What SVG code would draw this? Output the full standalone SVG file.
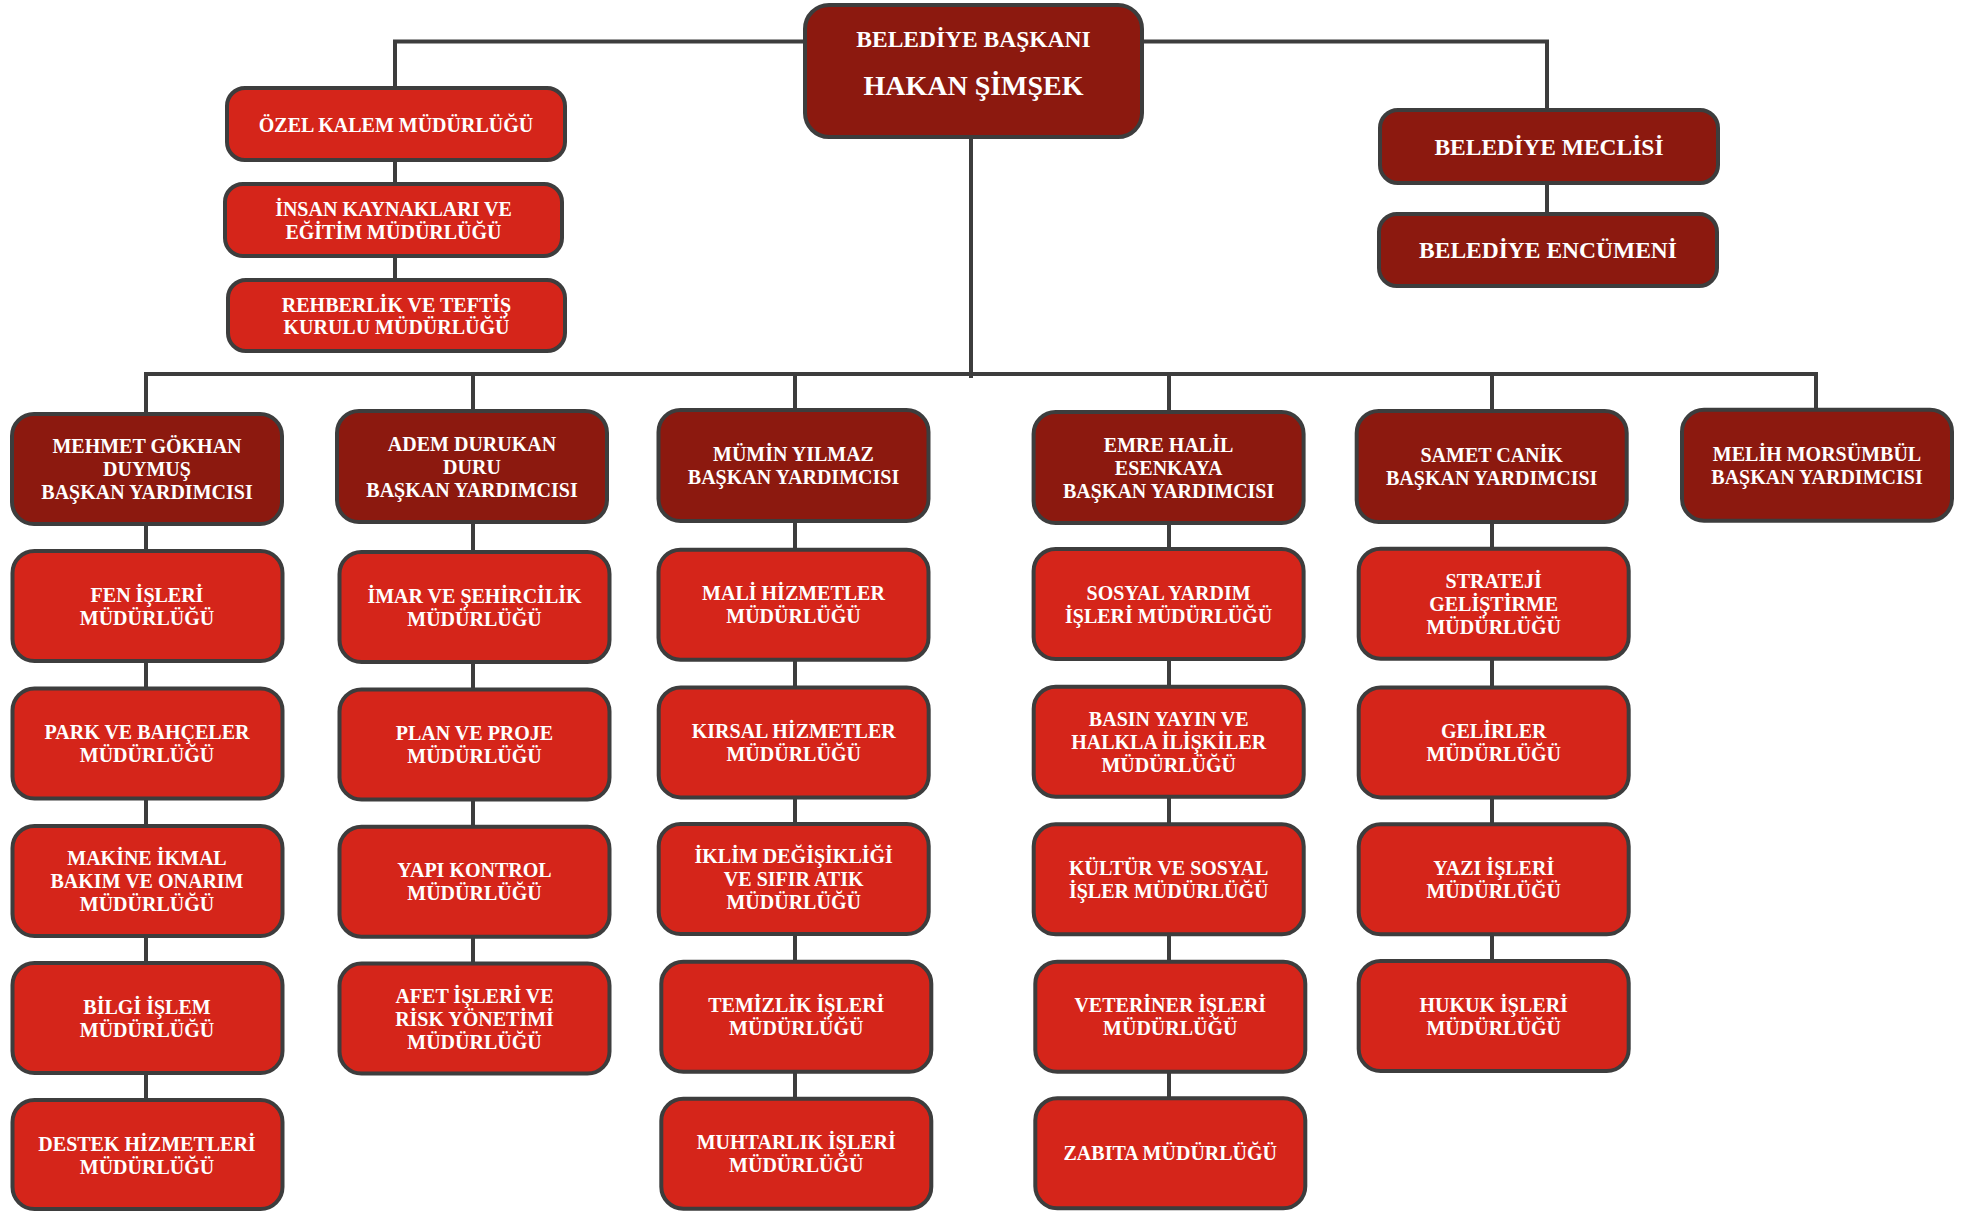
<svg xmlns="http://www.w3.org/2000/svg" width="1975" height="1213" viewBox="0 0 1975 1213">
<style>
.dk{fill:#8C190F;stroke:#3d3d3d;stroke-width:4}
.rd{fill:#D5251A;stroke:#3d3d3d;stroke-width:4}
text{font-family:"Liberation Serif","Times New Roman",serif;font-weight:bold;fill:#fff;text-anchor:middle;font-size:20px}
.big{font-size:23.5px}
.huge{font-size:28px}
#connectors path{fill:none;stroke:#3d3d3d;stroke-width:4;stroke-linejoin:miter}
</style>
<rect width="1975" height="1213" fill="#fff"/>
<g id="connectors">
<path d="M395,280 V41.5 H1547 V214"/>
<path d="M971,137 V378"/>
<path d="M146,1100 V374 H1816 V410"/>
<path d="M473,374 V964"/>
<path d="M795,374 V1099"/>
<path d="M1169,374 V1099"/>
<path d="M1492,374 V962"/>
</g>
<g id="baskan"><rect class="dk" x="805" y="5" width="337" height="132" rx="24"/><text class="big" x="973.5" y="47">BELEDİYE BAŞKANI</text><text class="huge" x="973.5" y="95">HAKAN ŞİMŞEK</text></g>
<g id="ozel-kalem"><rect class="rd" x="227" y="88" width="338" height="72" rx="18"/><text x="396" y="131.5">ÖZEL KALEM MÜDÜRLÜĞÜ</text></g>
<g id="insan-kaynaklari"><rect class="rd" x="225" y="184" width="337" height="72" rx="18"/><text x="393.5" y="216">İNSAN KAYNAKLARI VE</text><text x="393.5" y="239">EĞİTİM MÜDÜRLÜĞÜ</text></g>
<g id="rehberlik"><rect class="rd" x="228" y="280" width="337" height="71" rx="18"/><text x="396.5" y="311.5">REHBERLİK VE TEFTİŞ</text><text x="396.5" y="334">KURULU MÜDÜRLÜĞÜ</text></g>
<g id="meclis"><rect class="dk" x="1380" y="110" width="338" height="73" rx="18"/><text class="big" x="1549" y="155">BELEDİYE MECLİSİ</text></g>
<g id="encumen"><rect class="dk" x="1379" y="214" width="338" height="72" rx="18"/><text class="big" x="1548" y="258">BELEDİYE ENCÜMENİ</text></g>

<g id="vp-mehmet"><rect class="dk" x="12" y="414" width="270" height="110" rx="22"/><text x="147" y="453">MEHMET GÖKHAN</text><text x="147" y="476">DUYMUŞ</text><text x="147" y="499">BAŞKAN YARDIMCISI</text></g>
<g id="vp-adem"><rect class="dk" x="337" y="411" width="270" height="111" rx="22"/><text x="472" y="450.5">ADEM DURUKAN</text><text x="472" y="473.5">DURU</text><text x="472" y="496.5">BAŞKAN YARDIMCISI</text></g>
<g id="vp-mumin"><rect class="dk" x="658.5" y="410" width="270" height="111" rx="22"/><text x="793.5" y="461">MÜMİN YILMAZ</text><text x="793.5" y="484">BAŞKAN YARDIMCISI</text></g>
<g id="vp-emre"><rect class="dk" x="1033.6" y="412" width="270" height="111" rx="22"/><text x="1168.6" y="451.5">EMRE HALİL</text><text x="1168.6" y="474.5">ESENKAYA</text><text x="1168.6" y="497.5">BAŞKAN YARDIMCISI</text></g>
<g id="vp-samet"><rect class="dk" x="1356.7" y="411" width="270" height="111" rx="22"/><text x="1491.7" y="462">SAMET CANİK</text><text x="1491.7" y="485">BAŞKAN YARDIMCISI</text></g>
<g id="vp-melih"><rect class="dk" x="1682" y="409.7" width="270" height="111" rx="22"/><text x="1817" y="460.7">MELİH MORSÜMBÜL</text><text x="1817" y="483.7">BAŞKAN YARDIMCISI</text></g>

<g id="fen"><rect class="rd" x="12.5" y="551" width="270" height="110" rx="22"/><text x="147" y="601.5">FEN İŞLERİ</text><text x="147" y="624.5">MÜDÜRLÜĞÜ</text></g>
<g id="park"><rect class="rd" x="12.5" y="688.5" width="270" height="110" rx="22"/><text x="147" y="739">PARK VE BAHÇELER</text><text x="147" y="762">MÜDÜRLÜĞÜ</text></g>
<g id="makine"><rect class="rd" x="12.5" y="826" width="270" height="110" rx="22"/><text x="147" y="865">MAKİNE İKMAL</text><text x="147" y="888">BAKIM VE ONARIM</text><text x="147" y="911">MÜDÜRLÜĞÜ</text></g>
<g id="bilgi"><rect class="rd" x="12.5" y="963" width="270" height="110" rx="22"/><text x="147" y="1013.5">BİLGİ İŞLEM</text><text x="147" y="1036.5">MÜDÜRLÜĞÜ</text></g>
<g id="destek"><rect class="rd" x="12.5" y="1100" width="270" height="109" rx="22"/><text x="147" y="1150.5">DESTEK HİZMETLERİ</text><text x="147" y="1173.5">MÜDÜRLÜĞÜ</text></g>

<g id="imar"><rect class="rd" x="339.5" y="552" width="270" height="110" rx="22"/><text x="474.5" y="602.5">İMAR VE ŞEHİRCİLİK</text><text x="474.5" y="625.5">MÜDÜRLÜĞÜ</text></g>
<g id="plan"><rect class="rd" x="339.5" y="689.5" width="270" height="110" rx="22"/><text x="474.5" y="740">PLAN VE PROJE</text><text x="474.5" y="763">MÜDÜRLÜĞÜ</text></g>
<g id="yapi"><rect class="rd" x="339.5" y="826.7" width="270" height="110" rx="22"/><text x="474.5" y="877.2">YAPI KONTROL</text><text x="474.5" y="900.2">MÜDÜRLÜĞÜ</text></g>
<g id="afet"><rect class="rd" x="339.5" y="963.6" width="270" height="110" rx="22"/><text x="474.5" y="1002.6">AFET İŞLERİ VE</text><text x="474.5" y="1025.6">RİSK YÖNETİMİ</text><text x="474.5" y="1048.6">MÜDÜRLÜĞÜ</text></g>

<g id="mali"><rect class="rd" x="658.5" y="549.7" width="270" height="110" rx="22"/><text x="793.5" y="600.2">MALİ HİZMETLER</text><text x="793.5" y="623.2">MÜDÜRLÜĞÜ</text></g>
<g id="kirsal"><rect class="rd" x="658.7" y="687.4" width="270" height="110" rx="22"/><text x="793.7" y="737.9">KIRSAL HİZMETLER</text><text x="793.7" y="760.9">MÜDÜRLÜĞÜ</text></g>
<g id="iklim"><rect class="rd" x="658.7" y="824" width="270" height="110" rx="22"/><text x="793.7" y="863">İKLİM DEĞİŞİKLİĞİ</text><text x="793.7" y="886">VE SIFIR ATIK</text><text x="793.7" y="909">MÜDÜRLÜĞÜ</text></g>
<g id="temizlik"><rect class="rd" x="661.3" y="961.8" width="270" height="110" rx="22"/><text x="796.3" y="1012.3">TEMİZLİK İŞLERİ</text><text x="796.3" y="1035.3">MÜDÜRLÜĞÜ</text></g>
<g id="muhtarlik"><rect class="rd" x="661.3" y="1098.7" width="270" height="110" rx="22"/><text x="796.3" y="1149.2">MUHTARLIK İŞLERİ</text><text x="796.3" y="1172.2">MÜDÜRLÜĞÜ</text></g>

<g id="sosyal-yardim"><rect class="rd" x="1033.6" y="549" width="270" height="110" rx="22"/><text x="1168.6" y="599.5">SOSYAL YARDIM</text><text x="1168.6" y="622.5">İŞLERİ MÜDÜRLÜĞÜ</text></g>
<g id="basin"><rect class="rd" x="1033.7" y="686.7" width="270" height="110" rx="22"/><text x="1168.7" y="725.7">BASIN YAYIN VE</text><text x="1168.7" y="748.7">HALKLA İLİŞKİLER</text><text x="1168.7" y="771.7">MÜDÜRLÜĞÜ</text></g>
<g id="kultur"><rect class="rd" x="1033.7" y="824.3" width="270" height="110" rx="22"/><text x="1168.7" y="874.8">KÜLTÜR VE SOSYAL</text><text x="1168.7" y="897.8">İŞLER MÜDÜRLÜĞÜ</text></g>
<g id="veteriner"><rect class="rd" x="1035.3" y="961.8" width="270" height="110" rx="22"/><text x="1170.3" y="1012.3">VETERİNER İŞLERİ</text><text x="1170.3" y="1035.3">MÜDÜRLÜĞÜ</text></g>
<g id="zabita"><rect class="rd" x="1035.3" y="1098.3" width="270" height="110" rx="22"/><text x="1170.3" y="1160.3">ZABITA MÜDÜRLÜĞÜ</text></g>

<g id="strateji"><rect class="rd" x="1358.7" y="548.7" width="270" height="110" rx="22"/><text x="1493.7" y="587.7">STRATEJİ</text><text x="1493.7" y="610.7">GELİŞTİRME</text><text x="1493.7" y="633.7">MÜDÜRLÜĞÜ</text></g>
<g id="gelirler"><rect class="rd" x="1358.7" y="687.4" width="270" height="110" rx="22"/><text x="1493.7" y="737.9">GELİRLER</text><text x="1493.7" y="760.9">MÜDÜRLÜĞÜ</text></g>
<g id="yazi"><rect class="rd" x="1358.7" y="824.3" width="270" height="110" rx="22"/><text x="1493.7" y="874.8">YAZI İŞLERİ</text><text x="1493.7" y="897.8">MÜDÜRLÜĞÜ</text></g>
<g id="hukuk"><rect class="rd" x="1358.7" y="961" width="270" height="110" rx="22"/><text x="1493.7" y="1011.5">HUKUK İŞLERİ</text><text x="1493.7" y="1034.5">MÜDÜRLÜĞÜ</text></g>
</svg>
